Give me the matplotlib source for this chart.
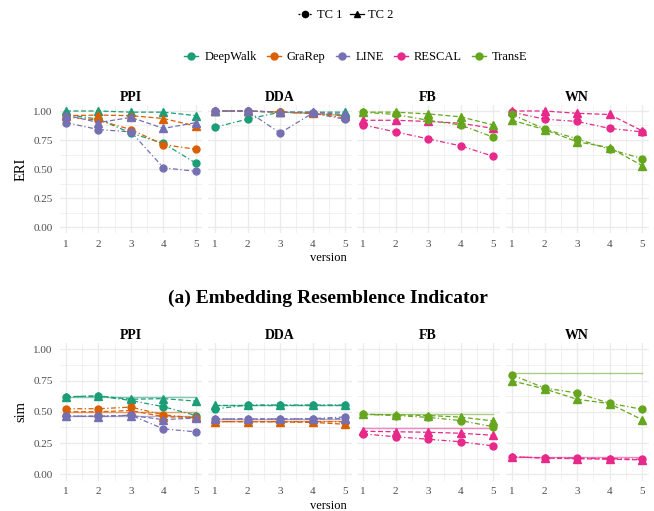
import matplotlib
matplotlib.use("Agg")
import matplotlib.pyplot as plt
from matplotlib.lines import Line2D
import numpy as np

plt.rcParams['font.family'] = ['Liberation Serif', 'DejaVu Serif']

versions = [1, 2, 3, 4, 5]
datasets = ["PPI", "DDA", "FB", "WN"]
models = ["DeepWalk", "GraRep", "LINE", "RESCAL", "TransE"]
colors = {"DeepWalk": "#1B9E77", "GraRep": "#D95F02", "LINE": "#7570B3",
          "RESCAL": "#E7298A", "TransE": "#66A61E"}

# ERI, TC 1
eri_tc1 = {
    "PPI": {"DeepWalk": [0.97, 0.93, 0.81, 0.72, 0.55],
            "GraRep": [0.95, 0.92, 0.84, 0.71, 0.67],
            "LINE": [0.90, 0.84, 0.82, 0.51, 0.48]},
    "DDA": {"DeepWalk": [0.86, 0.93, 0.99, 0.98, 0.96],
            "GraRep": [1.00, 1.00, 0.99, 0.98, 0.94],
            "LINE": [1.00, 1.00, 0.81, 0.98, 0.93]},
    "FB": {"RESCAL": [0.88, 0.82, 0.76, 0.70, 0.61],
           "TransE": [0.99, 0.97, 0.92, 0.88, 0.775]},
    "WN": {"RESCAL": [0.99, 0.93, 0.91, 0.85, 0.82],
           "TransE": [0.97, 0.845, 0.76, 0.67, 0.59]},
}
# ERI, TC 2
eri_tc2 = {
    "PPI": {"DeepWalk": [1.00, 1.00, 0.99, 0.99, 0.96],
            "GraRep": [0.96, 0.965, 0.96, 0.935, 0.87],
            "LINE": [0.965, 0.90, 0.945, 0.85, 0.90]},
    "DDA": {"DeepWalk": [1.00, 1.00, 0.99, 0.99, 0.99],
            "GraRep": [1.00, 1.00, 0.99, 0.98, 0.96],
            "LINE": [1.00, 1.00, 0.99, 0.99, 0.97]},
    "FB": {"RESCAL": [0.92, 0.92, 0.91, 0.895, 0.85],
           "TransE": [0.99, 0.99, 0.975, 0.95, 0.88]},
    "WN": {"RESCAL": [1.00, 1.00, 0.98, 0.97, 0.83],
           "TransE": [0.92, 0.84, 0.735, 0.685, 0.53]},
}
# sim, TC 1
sim_tc1 = {
    "PPI": {"DeepWalk": [0.62, 0.625, 0.59, 0.54, 0.47],
            "GraRep": [0.524, 0.524, 0.537, 0.475, 0.45],
            "LINE": [0.465, 0.465, 0.472, 0.363, 0.339]},
    "DDA": {"DeepWalk": [0.522, 0.554, 0.554, 0.554, 0.554],
            "GraRep": [0.421, 0.421, 0.421, 0.421, 0.42],
            "LINE": [0.442, 0.442, 0.442, 0.445, 0.458]},
    "FB": {"RESCAL": [0.323, 0.30, 0.28, 0.26, 0.227],
           "TransE": [0.48, 0.47, 0.455, 0.43, 0.38]},
    "WN": {"RESCAL": [0.14, 0.13, 0.13, 0.125, 0.12],
           "TransE": [0.795, 0.69, 0.65, 0.568, 0.52]},
}
# sim, TC 2
sim_tc2 = {
    "PPI": {"DeepWalk": [0.62, 0.627, 0.60, 0.605, 0.585],
            "GraRep": [0.50, 0.50, 0.51, 0.46, 0.455],
            "LINE": [0.465, 0.462, 0.47, 0.437, 0.45]},
    "DDA": {"DeepWalk": [0.554, 0.554, 0.554, 0.554, 0.554],
            "GraRep": [0.421, 0.421, 0.418, 0.415, 0.40],
            "LINE": [0.442, 0.442, 0.442, 0.442, 0.445]},
    "FB": {"RESCAL": [0.344, 0.34, 0.336, 0.328, 0.312],
           "TransE": [0.48, 0.475, 0.47, 0.457, 0.427]},
    "WN": {"RESCAL": [0.14, 0.13, 0.125, 0.12, 0.115],
           "TransE": [0.747, 0.683, 0.60, 0.565, 0.437]},
}
# sim, baseline (solid reference lines)
sim_base = {
    "PPI": {"DeepWalk": 0.616, "GraRep": 0.50, "LINE": 0.47},
    "DDA": {"DeepWalk": 0.557, "GraRep": 0.43, "LINE": 0.445},
    "FB": {"RESCAL": 0.368, "TransE": 0.48},
    "WN": {"RESCAL": 0.14, "TransE": 0.813},
}
yticks = [0.00, 0.25, 0.50, 0.75, 1.00]

W, H = 654, 511
fig = plt.figure(figsize=(W / 100, H / 100), dpi=100)

def ax_at(x0, y0, x1, y1):
    return fig.add_axes([x0 / W, 1 - y1 / H, (x1 - x0) / W, (y1 - y0) / H])

panel_x = [(59.5, 202.5), (208.5, 351.5), (356.5, 499.5), (505.5, 648.5)]
grid_c = "#EBEBEB"
tick_c = "#4D4D4D"

def draw_block(y0, y1, tc1, tc2, base, ylabel):
    axes = []
    for i, ds in enumerate(datasets):
        ax = ax_at(panel_x[i][0], y0, panel_x[i][1], y1)
        ax.set_xlim(0.8, 5.2)
        ax.set_ylim(-0.05, 1.05)
        for s in ax.spines.values():
            s.set_visible(False)
        ax.set_xticks(versions)
        ax.set_yticks(yticks)
        ax.set_xticks([1.5, 2.5, 3.5, 4.5], minor=True)
        ax.set_yticks([0.125, 0.375, 0.625, 0.875], minor=True)
        ax.grid(True, which="major", color=grid_c, lw=1.0, zorder=0)
        ax.grid(True, which="minor", color=grid_c, lw=0.5, zorder=0)
        ax.tick_params(which="both", length=0, labelsize=8, colors=tick_c, pad=5)
        ax.set_xticklabels([str(v) for v in versions])
        if i == 0:
            ax.set_yticklabels(["%.2f" % t for t in yticks])
            ax.set_ylabel(ylabel, fontsize=10.5, labelpad=4)
        else:
            ax.set_yticklabels([])
        ax.set_title(ds, fontsize=10, fontweight="bold", pad=3)
        if base is not None:
            for m, v in base[ds].items():
                ax.plot([versions[0], versions[-1]], [v, v], color=colors[m],
                        lw=1.0, alpha=0.55, zorder=2)
        for m in tc1[ds]:
            ax.plot(versions, tc1[ds][m], color=colors[m], ls=(0, (4, 2, 1, 2)),
                    lw=0.9, marker="o", ms=5, zorder=3)
            ax.plot(versions, tc2[ds][m], color=colors[m], ls=(0, (4, 2)),
                    lw=0.9, marker="^", ms=5.5, zorder=3)
        axes.append(ax)
    return axes

top = draw_block(105.2, 232.8, eri_tc1, eri_tc2, None, "ERI")
bot = draw_block(343.0, 480.5, sim_tc1, sim_tc2, sim_base, "sim")

fig.text(328 / W, 1 - 258 / H, "version", ha="center", va="center", fontsize=9)
fig.text(328 / W, 1 - 506 / H, "version", ha="center", va="center", fontsize=9)
fig.text(328 / W, 1 - 298 / H, "(a) Embedding Resemblence Indicator",
         ha="center", va="center", fontsize=14, fontweight="bold")

# legends
h_tc = [Line2D([], [], color="black", ls=(0, (1.5, 1.5)), lw=0.9, marker="o", ms=4.5),
        Line2D([], [], color="black", ls="-", lw=0.9, marker="^", ms=5)]
fig.legend(h_tc, ["TC 1", "TC 2"], loc="center", bbox_to_anchor=(346 / W, 1 - 15 / H),
           ncol=2, frameon=False, fontsize=9, handlelength=1.1, handletextpad=0.4,
           columnspacing=0.6)
h_m = [Line2D([], [], color=colors[m], lw=1.0, alpha=1, marker="o", ms=5) for m in models]
fig.legend(h_m, models, loc="center", bbox_to_anchor=(356 / W, 1 - 57 / H),
           ncol=5, frameon=False, fontsize=9, handlelength=1.1, handletextpad=0.5,
           columnspacing=0.8)

fig.savefig("out.png", dpi=100)
